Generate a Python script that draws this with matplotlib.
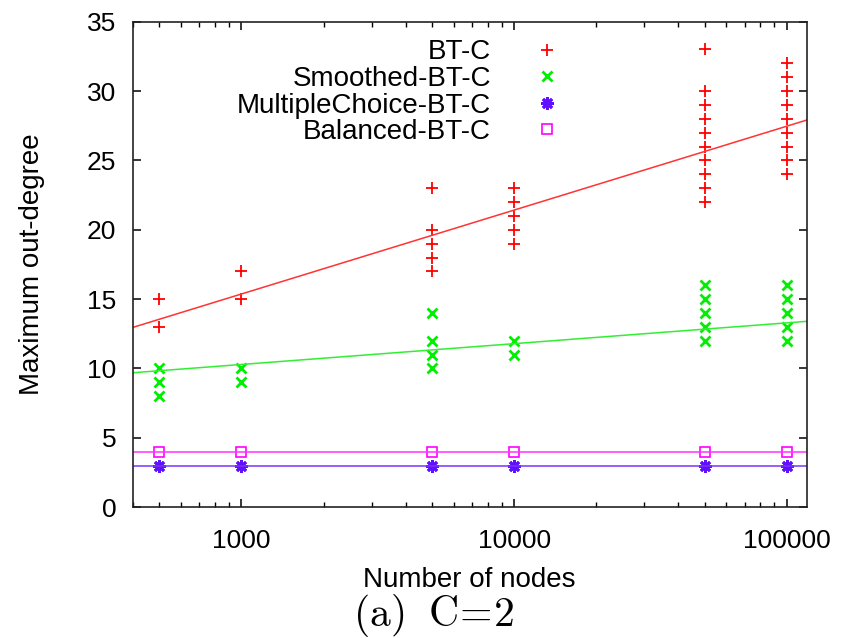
#!/usr/bin/env python

import numpy as np
import matplotlib as mpl
mpl.use('Agg')
import matplotlib.pyplot as plt
from matplotlib.ticker import LogLocator, NullFormatter, FixedLocator

### === Data ===
nodes = [500, 1000, 5000, 10000, 50000, 100000]

bt_c = [[15, 13],
        [17, 15],
        [23, 20, 19, 18, 17],
        [23, 22, 21, 20, 19],
        [33, 30, 29, 28, 27, 26, 25, 24, 23, 22],
        [32, 31, 30, 29, 28, 27, 26, 25, 24]]

smoothed_bt_c = [[10, 9, 8],
                 [10, 9],
                 [14, 12, 11, 10],
                 [12, 11],
                 [16, 15, 14, 13, 12],
                 [16, 15, 14, 13, 12]]

multiple_bt_c = [[3], [3], [3], [3], [3], [3]]
balanced_bt_c = [[4], [4], [4], [4], [4], [4]]

# fitted lines: y = a + b*log10(n)
fit_a = [-2.78, 5.79, 3.0, 4.0]
fit_b = [6.05, 1.50, 0.0, 0.0]

labels = ['BT-C', 'Smoothed-BT-C', 'MultipleChoice-BT-C', 'Balanced-BT-C']

### === Define styles ===
pointstyles = {
'BT-C'                :{'color':'#ff0000', 'marker':'+', 'markersize':8, 'mew':1.3},
'Smoothed-BT-C'       :{'color':'#00ee00', 'marker':'x', 'markersize':7, 'mew':2.0},
'MultipleChoice-BT-C' :{'color':'#6010ff', 'marker':(8, 2, 0), 'markersize':9, 'mew':2.0},
'Balanced-BT-C'       :{'color':'#ff00ff', 'marker':'s', 'markersize':7, 'mew':1.2, 'mfc':'none'},
}
linecolors = ['#ff3333', '#33ee33', '#7a33ff', '#ff33ff']


def mpl_init():
    font = {'family': ['Liberation Sans', 'DejaVu Sans'], 'size': 20}
    mpl.rc('font', **font)
    mpl.rcParams['mathtext.fontset'] = 'cm'
    mpl.rc('axes', linewidth=1.2, edgecolor='#222222')
    fig = plt.figure(figsize=(8.41, 6.38), dpi=100)
    ax = fig.add_axes([0.158, 0.205, 0.801, 0.761])
    return fig, ax


def flatten(groups):
    xs, ys = [], []
    for n, vals in zip(nodes, groups):
        for v in vals:
            xs.append(n)
            ys.append(v)
    return xs, ys


def plot():
    fig, ax = mpl_init()
    xmin, xmax = 400, 118000
    xfit = np.logspace(np.log10(xmin), np.log10(xmax), 50)

    series = [bt_c, smoothed_bt_c, multiple_bt_c, balanced_bt_c]
    handles = []
    for i, (lab, grp) in enumerate(zip(labels, series)):
        xs, ys = flatten(grp)
        h, = ax.plot(xs, ys, linestyle='none', label=lab, **pointstyles[lab])
        handles.append(h)
        ax.plot(xfit, fit_a[i] + fit_b[i]*np.log10(xfit), color=linecolors[i], lw=1.1)

    ax.set_xscale('log')
    ax.set_xlim(xmin, xmax)
    ax.set_ylim(0, 35)
    ax.xaxis.set_major_locator(FixedLocator([1000, 10000, 100000]))
    ax.xaxis.set_major_formatter(mpl.ticker.FuncFormatter(lambda v, p: '%d' % v))
    ax.xaxis.set_minor_locator(LogLocator(base=10, subs=np.arange(2, 10)))
    ax.xaxis.set_minor_formatter(NullFormatter())
    ax.set_yticks(np.arange(0, 36, 5))

    ax.tick_params(which='both', direction='in', top=True, right=True, labelsize=19)
    ax.tick_params(which='major', length=6, width=1.1)
    ax.tick_params(which='minor', length=3.5, width=1.0)
    ax.tick_params(axis='x', pad=16)
    ax.tick_params(axis='y', pad=12)

    ax.set_xlabel('Number of nodes', fontsize=20, labelpad=10)
    ax.set_ylabel('Maximum out-degree', fontsize=20, labelpad=30)

    leg = ax.legend(handles=handles, loc='upper right', bbox_to_anchor=(0.668, 0.992),
                    frameon=False, markerfirst=False, handlelength=1.6,
                    handletextpad=1.2, labelspacing=0.02, borderpad=0,
                    fontsize=20, numpoints=1)

    fig.text(0.516, 0.036, r'$\mathrm{(a)\;\ C\!=\!2}$', fontsize=30, ha='center', va='center')

    plt.savefig('out.png', dpi=100)


if __name__ == "__main__":
    plot()
